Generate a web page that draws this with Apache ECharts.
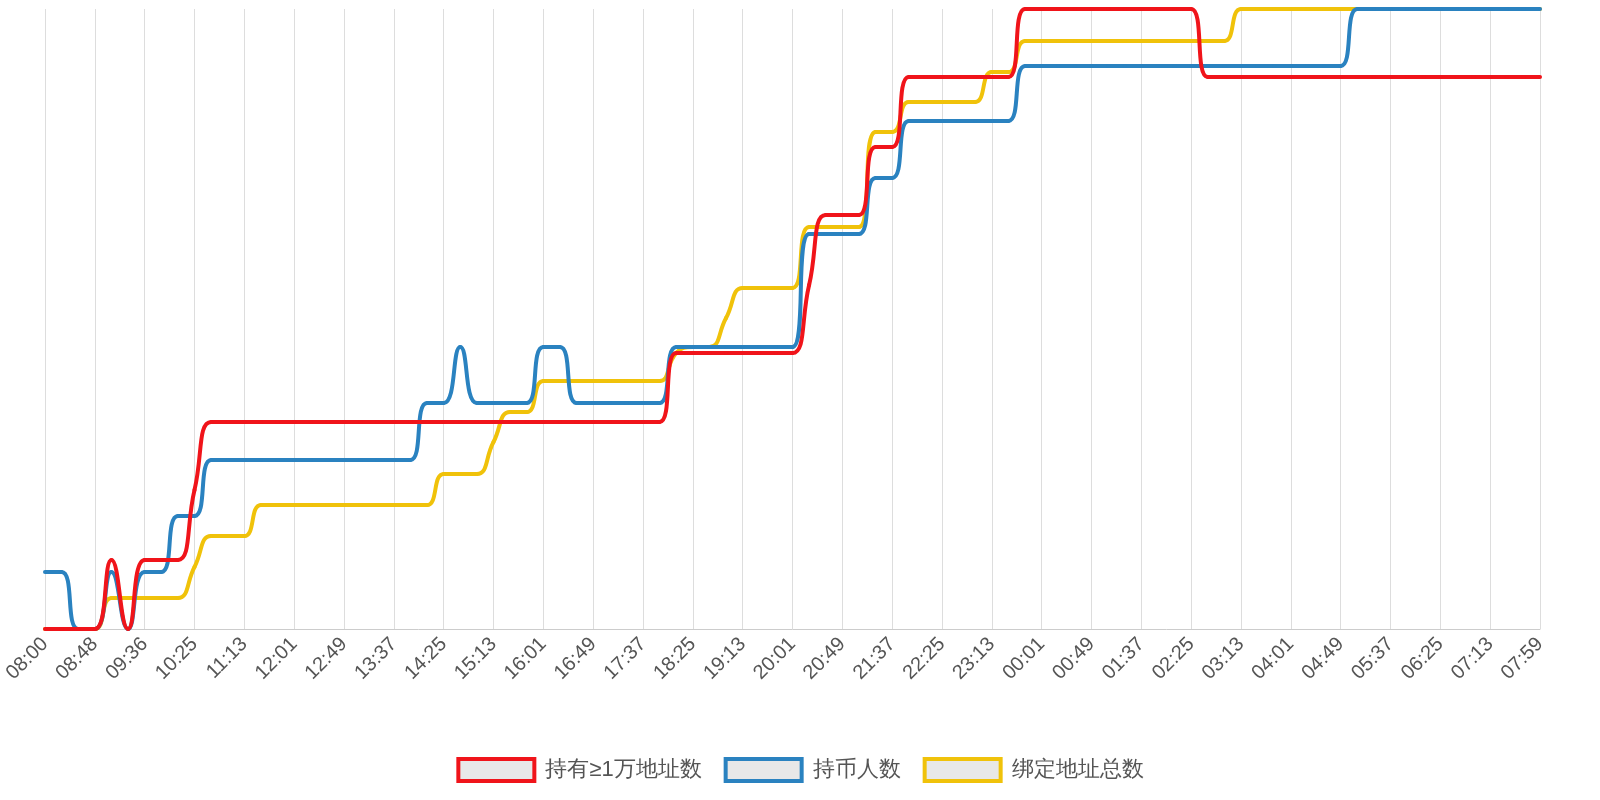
<!DOCTYPE html>
<html>
<head>
<meta charset="utf-8">
<script src="https://cdn.jsdelivr.net/npm/echarts@6/dist/echarts.min.js"></script>
<style>html,body{margin:0;padding:0;background:#fff}#main{width:1600px;height:800px}</style>
</head>
<body>
<div id="main"></div>
<script>
// 刻度标签（每 3 个点一个）
const tickLabels = ['08:00','08:48','09:36','10:25','11:13','12:01','12:49','13:37','14:25','15:13','16:01','16:49','17:37','18:25','19:13','20:01','20:49','21:37','22:25','23:13','00:01','00:49','01:37','02:25','03:13','04:01','04:49','05:37','06:25','07:13','07:59']

const seriesNames = ['持有≥1万地址数', '持币人数', '绑定地址总数']
const colors = ['#f0141a', '#2a82c0', '#f0c20a']

function rep (v, n) { return new Array(n).fill(v) }

const redData = [].concat(
  [0, 0, 0, 0, 69, 0, 69, 69, 69, 139], rep(207, 28), rep(276, 8), [344], rep(414, 3), rep(482, 2), rep(552, 7), rep(620, 11), rep(552, 21)
)
const blueData = [].concat(
  [57, 57, 0, 0, 57, 0, 57, 57, 113, 113], rep(169, 13), rep(226, 2), [282], rep(226, 4), rep(282, 2), rep(226, 6), rep(282, 8), rep(395, 4), rep(451, 2), rep(508, 7), rep(563, 20), rep(620, 12)
)
const yellowData = [].concat(
  [0, 0, 0, 0], rep(31, 5), [62], rep(93, 3), rep(124, 11), rep(155, 3), [187], rep(217, 2), rep(248, 8), [276], rep(282, 2), [311], rep(341, 4), rep(402, 4), rep(497, 2), rep(527, 5), rep(557, 2), rep(588, 13), rep(620, 19)
)

// 类目：带标签的点用刻度标签，其余点补足
const categories = []
for (let i = 0; i < 91; i++) {
  if (i % 3 === 0) categories.push(tickLabels[i / 3])
  else categories.push(tickLabels[Math.floor(i / 3)] + '+' + (i % 3))
}

const myChart = echarts.init(document.getElementById('main'))
const allData = [redData, blueData, yellowData]

const option = {
  animation: false,
  grid: { left: 45, right: 60, top: 9, bottom: 171, containLabel: false, outerBoundsMode: 'none' },
  legend: {
    bottom: 12,
    itemWidth: 76,
    itemHeight: 22,
    itemGap: 22,
    textStyle: { fontSize: 22, color: '#555', padding: [0, 0, 0, 6] },
    data: seriesNames.map((n, k) => ({
      name: n,
      icon: 'rect',
      itemStyle: { color: '#e8e8e8', borderColor: colors[k], borderWidth: 4 }
    }))
  },
  xAxis: {
    type: 'category',
    boundaryGap: false,
    data: categories,
    axisLine: { lineStyle: { color: '#ccc' } },
    axisTick: { show: false },
    axisLabel: { interval: 2, rotate: 45, fontSize: 20, color: '#555', margin: 12 },
    splitLine: { show: true, interval: 2, lineStyle: { color: '#ddd', width: 1 } }
  },
  yAxis: {
    type: 'value',
    min: 0,
    max: 620,
    show: false
  },
  series: allData.map((d, k) => ({
    name: seriesNames[k],
    type: 'line',
    smooth: true,
    symbol: 'circle',
    symbolSize: 4,
    showSymbol: true,
    showAllSymbol: true,
    data: d,
    z: 3 - k,
    lineStyle: { color: colors[k], width: 4 },
    itemStyle: { color: colors[k] }
  }))
}
myChart.setOption(option)
</script>
</body>
</html>
